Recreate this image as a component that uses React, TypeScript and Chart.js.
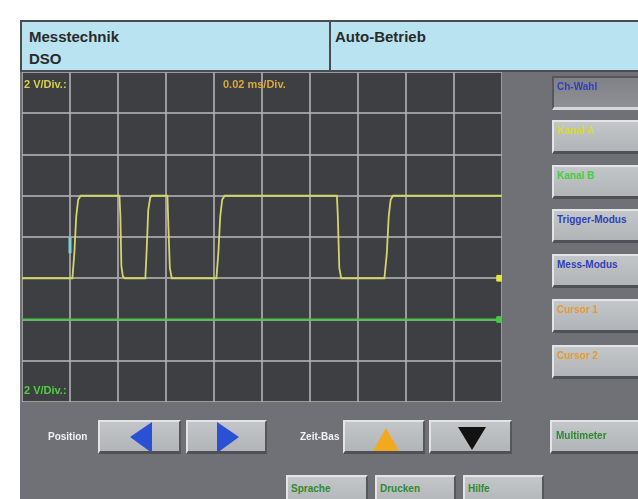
import React, { useEffect, useRef } from "react";
import { Chart, registerables } from "chart.js";
Chart.register(...registerables);

// ---- data ----
// Channel A (yellow): time in µs, voltage in V
const ch1Time = [0, 21.0, 21.8, 22.6, 23.4, 24.4, 40.6, 41.0, 41.4, 42.0, 42.8, 51.4, 52.0, 52.6, 53.4, 54.0, 60.6, 61.0, 61.6, 62.4, 81.0, 81.8, 82.6, 83.4, 84.4, 131.2, 131.6, 132.2, 133.0, 151.0, 152.0, 152.8, 153.6, 154.6, 200];
const ch1Volts = [0, 0, 1.2, 3.0, 3.8, 4, 4, 3.0, 0.6, 0.1, 0, 0, 1.5, 3.3, 3.9, 4, 4, 2.5, 0.5, 0, 0, 1.2, 3.0, 3.8, 4, 4, 3.0, 0.5, 0, 0, 1.2, 3.0, 3.8, 4, 4];
// Channel B (green)
const ch2Time = [0, 50, 100, 150, 200];
const ch2Volts = [0, 0, 0, 0, 0];
// settings
const voltsPerDiv = 2;
const ch1OffsetDiv = -1;
const ch2OffsetDiv = -2;
const timeMin = 0;
const timeMax = 200; // 0.02 ms/Div x 10 Div
const timeStep = 20;
const divMin = -4;
const divMax = 4;
// trigger marker (time µs, volts ch1)
const triggerTime = [20];
const triggerVolts = [1.6];
const markerTime = 199;

const rightButtons = ["Ch-Wahl", "Kanal A", "Kanal B", "Trigger-Modus", "Mess-Modus", "Cursor 1", "Cursor 2"];
const rightButtonColors = ["#2f3fc0", "#d8d83a", "#3fcf3f", "#3040b8", "#3040b8", "#e89a30", "#e89a30"];
const bottomButtons = ["Sprache", "Drucken", "Hilfe"];

const FONT = '"Liberation Sans", Arial, sans-serif';

function toDiv(v: number, off: number) {
  return v / voltsPerDiv + off;
}

function Btn(props: { x: number; y: number; w: number; h: number; pressed?: boolean; children?: any }) {
  const { x, y, w, h, pressed, children } = props;
  return (
    <div
      style={{
        position: "absolute",
        left: x,
        top: y,
        width: w,
        height: h,
        boxSizing: "border-box",
        background: pressed
          ? "linear-gradient(#7f8186, #8d9095)"
          : "linear-gradient(#c3c6c8, #b2b5b8)",
        borderTop: pressed ? "2px solid #55575c" : "2px solid #e2e4e6",
        borderLeft: pressed ? "2px solid #55575c" : "2px solid #e2e4e6",
        borderBottom: pressed ? "3px solid #d6d8da" : "3px solid #4f5156",
        borderRight: pressed ? "2px solid #d6d8da" : "2px solid #55575c",
        overflow: "hidden",
      }}
    >
      {children}
    </div>
  );
}

function Scope() {
  const ref = useRef<HTMLCanvasElement | null>(null);
  useEffect(() => {
    if (!ref.current) return;
    const gridColor = "rgba(172,172,172,0.85)";
    const chart = new Chart(ref.current, {
      type: "scatter",
      data: {
        datasets: [
          {
            data: ch2Time.map((t, i) => ({ x: t, y: toDiv(ch2Volts[i], ch2OffsetDiv) })),
            showLine: true,
            borderColor: "#4cc44c",
            borderWidth: 2,
            pointRadius: 0,
          },
          {
            data: ch1Time.map((t, i) => ({ x: t, y: toDiv(ch1Volts[i], ch1OffsetDiv) })),
            showLine: true,
            borderColor: "#d4d468",
            borderWidth: 1.8,
            pointRadius: 0,
            tension: 0,
          },
          {
            data: triggerTime.map((t, i) => ({ x: t, y: toDiv(triggerVolts[i], ch1OffsetDiv) })),
            pointStyle: "line",
            rotation: 90,
            pointRadius: 8,
            borderColor: "#7fd0dc",
            borderWidth: 3,
            clip: false,
          } as any,
          {
            data: [{ x: markerTime, y: toDiv(0, ch1OffsetDiv) }],
            pointStyle: "rect",
            pointRadius: 4,
            backgroundColor: "#e6e640",
            borderColor: "#e6e640",
            clip: false,
          } as any,
          {
            data: [{ x: markerTime, y: toDiv(0, ch2OffsetDiv) }],
            pointStyle: "rect",
            pointRadius: 4,
            backgroundColor: "#3fcf3f",
            borderColor: "#3fcf3f",
            clip: false,
          } as any,
        ],
      },
      options: {
        animation: false,
        responsive: false,
        maintainAspectRatio: false,
        layout: { padding: 0, autoPadding: false },
        plugins: { legend: { display: false }, tooltip: { enabled: false } },
        scales: {
          x: {
            type: "linear",
            min: timeMin,
            max: timeMax,
            ticks: { display: false, stepSize: timeStep },
            grid: { color: gridColor, lineWidth: 2, drawTicks: false },
            border: { display: false },
          },
          y: {
            type: "linear",
            min: divMin,
            max: divMax,
            ticks: { display: false, stepSize: 1 },
            grid: { color: gridColor, lineWidth: 2, drawTicks: false },
            border: { display: false },
          },
        },
      },
    } as any);
    return () => chart.destroy();
  }, []);
  return <canvas ref={ref} width={480} height={330} style={{ width: 480, height: 330, display: "block" }} />;
}

export default function App() {
  const smallLabel = { position: "absolute" as const, fontFamily: FONT, fontSize: 10, fontWeight: 700 as const };
  return (
    <div style={{ position: "fixed", left: 0, top: 0, width: 638, height: 499, background: "#ffffff", overflow: "hidden", fontFamily: FONT }}>
      {/* panel */}
      <div style={{ position: "absolute", left: 20, top: 20, width: 618, height: 479, background: "#6f7176" }} />
      {/* header */}
      <div style={{ position: "absolute", left: 20, top: 20, width: 618, height: 52, boxSizing: "border-box", background: "#b9e3f1", borderTop: "2px solid #4a4c50", borderLeft: "2px solid #4a4c50", borderBottom: "2px solid #4a4c50" }} />
      <div style={{ position: "absolute", left: 329, top: 22, width: 2, height: 50, background: "#4a4c50" }} />
      <div style={{ position: "absolute", left: 29, top: 28, fontSize: 15, fontWeight: 700, color: "#2a2a2a" }}>Messtechnik</div>
      <div style={{ position: "absolute", left: 29, top: 50, fontSize: 15, fontWeight: 700, color: "#2a2a2a" }}>DSO</div>
      <div style={{ position: "absolute", left: 335, top: 28, fontSize: 15, fontWeight: 700, color: "#2a2a2a" }}>Auto-Betrieb</div>
      {/* scope */}
      <div style={{ position: "absolute", left: 22, top: 72, width: 480, height: 330, background: "#3e3f43" }}>
        <Scope />
      </div>
      <div style={{ ...smallLabel, left: 24, top: 78, fontSize: 11, color: "#d8d048" }}>2 V/Div.:</div>
      <div style={{ ...smallLabel, left: 223, top: 78, fontSize: 11, color: "#dca83a" }}>0.02 ms/Div.</div>
      <div style={{ ...smallLabel, left: 24, top: 384, fontSize: 11, color: "#4fcf3f" }}>2 V/Div.:</div>
      {/* right buttons */}
      {rightButtons.map((t, i) => (
        <Btn key={t} x={552} y={[76, 120, 165, 209, 254, 299, 345][i]} w={90} h={34} pressed={i === 0}>
          <div style={{ ...smallLabel, left: 3, top: 3, color: rightButtonColors[i] }}>{t}</div>
        </Btn>
      ))}
      {/* bottom controls */}
      <div style={{ ...smallLabel, left: 48, top: 431, color: "#f2f2f2" }}>Position</div>
      <Btn x={98} y={420} w={83} h={34}>
        <svg width={83} height={34} style={{ position: "absolute", left: -2, top: -2 }}>
          <polygon points="32,17 54,2 54,33" fill="#2a50d4" />
        </svg>
      </Btn>
      <Btn x={186} y={420} w={81} h={34}>
        <svg width={81} height={34} style={{ position: "absolute", left: -2, top: -2 }}>
          <polygon points="31,2 31,33 53,17" fill="#2a50d4" />
        </svg>
      </Btn>
      <div style={{ ...smallLabel, left: 300, top: 431, color: "#f2f2f2" }}>Zeit-Bas</div>
      <Btn x={343} y={420} w={82} h={34}>
        <svg width={82} height={34} style={{ position: "absolute", left: -2, top: -2 }}>
          <polygon points="43,8 56,31 30,31" fill="#f2a91e" />
        </svg>
      </Btn>
      <Btn x={429} y={420} w={83} h={34}>
        <svg width={83} height={34} style={{ position: "absolute", left: -2, top: -2 }}>
          <polygon points="29,7 57,7 43,30" fill="#121212" />
        </svg>
      </Btn>
      <Btn x={550} y={420} w={92} h={34}>
        <div style={{ ...smallLabel, left: 4, top: 8, color: "#2f8a2f" }}>Multimeter</div>
      </Btn>
      {bottomButtons.map((t, i) => (
        <Btn key={t} x={[286, 375, 463][i]} y={475} w={[82, 81, 81][i]} h={34}>
          <div style={{ ...smallLabel, left: 3, top: 6, color: "#2f8a2f" }}>{t}</div>
        </Btn>
      ))}
    </div>
  );
}
